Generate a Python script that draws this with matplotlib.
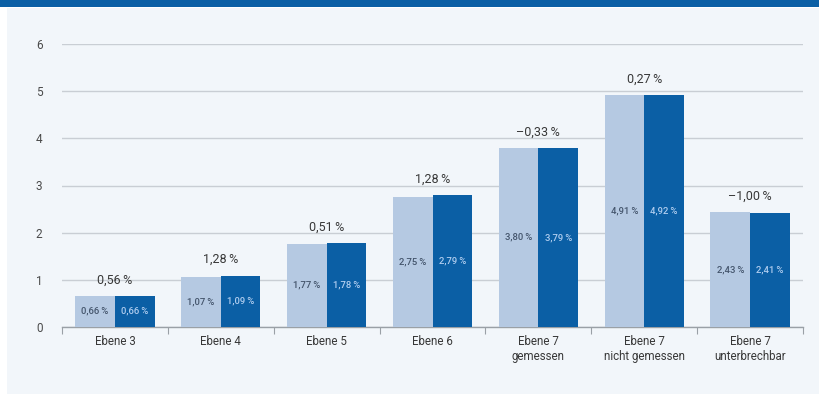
import matplotlib
matplotlib.use("Agg")
import matplotlib.pyplot as plt
from matplotlib.patches import Rectangle
import numpy as np

categories = ["Ebene 3", "Ebene 4", "Ebene 5", "Ebene 6",
              "Ebene 7\ngemessen", "Ebene 7\nnicht gemessen", "Ebene 7\nunterbrechbar"]
values_prev = [0.66, 1.07, 1.77, 2.75, 3.80, 4.91, 2.43]
values_curr = [0.66, 1.09, 1.78, 2.79, 3.79, 4.92, 2.41]
changes = [0.56, 1.28, 0.51, 1.28, -0.33, 0.27, -1.00]
yticks = [0, 1, 2, 3, 4, 5, 6]

plt.rcParams["font.family"] = ["Roboto", "DejaVu Sans"]

PANEL = "#f2f6fa"
DARK = "#0b5fa5"
LIGHT = "#b5c9e2"
TEXT = "#383838"
GRID = "#c9ced4"


def fmt(v, signed=False):
    s = f"{abs(v):.2f}".replace(".", ",")
    if signed and v < 0:
        s = "\u2013" + s
    return s + "\u2009%"


fig = plt.figure(figsize=(8.19, 3.96), dpi=100)
fig.patch.set_facecolor("white")

# light background panel and the blue band across the top
fig.patches.append(Rectangle((7 / 819, 2 / 396), 1 - 7 / 819, 1 - 2 / 396 - 8 / 396,
                             transform=fig.transFigure, facecolor=PANEL,
                             edgecolor="none", zorder=-2))
fig.patches.append(Rectangle((0, 1 - 7 / 396), 1, 7 / 396,
                             transform=fig.transFigure, facecolor=DARK,
                             edgecolor="none", zorder=-1))

ax = fig.add_axes([62 / 819, (396 - 327) / 396, 741 / 819, 283 / 396])
ax.set_facecolor("none")

x = np.arange(len(categories))
w = 0.375
ax.bar(x - w / 2, values_prev, w, color=LIGHT, zorder=3)
ax.bar(x + w / 2, values_curr, w, color=DARK, zorder=3)

for xi, v in zip(x, values_prev):
    ax.text(xi - w / 2, v / 2, fmt(v), ha="center", va="center",
            fontsize=6.8, fontweight="medium", color="#44556c", zorder=4)
for xi, v in zip(x, values_curr):
    ax.text(xi + w / 2, v / 2, fmt(v), ha="center", va="center",
            fontsize=6.8, fontweight="medium", color="#b0cdef", zorder=4)
for xi, a, b, c in zip(x, values_prev, values_curr, changes):
    ax.text(xi, max(a, b) + 0.2, fmt(c, signed=True), ha="center",
            va="bottom", fontsize=9, color=TEXT, zorder=4, clip_on=False)

ax.set_xlim(-0.5, len(categories) - 0.5)
ax.set_ylim(0, 6)
ax.set_yticks(yticks)
ax.set_yticklabels([str(t) for t in yticks])
ax.tick_params(axis="y", length=0, pad=14, labelsize=8.5, labelcolor="#4a4a4a")
ax.yaxis.grid(True, color=GRID, linewidth=1.0, zorder=0)

# category labels centred, tick marks on group boundaries
ax.set_xticks(np.arange(-0.5, len(categories)), minor=False)
ax.set_xticklabels([""] * (len(categories) + 1))
ax.set_xticks(x, minor=True)
ax.set_xticklabels(categories, minor=True)
ax.tick_params(axis="x", which="major", length=5, color="#9aa0a6", width=0.8)
ax.tick_params(axis="x", which="minor", length=0, pad=6, labelsize=8.3,
               labelcolor=TEXT)

for side in ["top", "right", "left"]:
    ax.spines[side].set_visible(False)
ax.spines["bottom"].set_color("#9aa0a6")
ax.spines["bottom"].set_linewidth(1.0)

fig.savefig("out.png", dpi=100, facecolor=fig.get_facecolor())
